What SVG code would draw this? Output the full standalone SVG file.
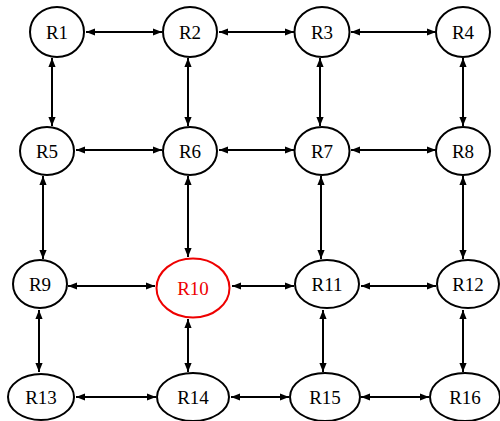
<svg xmlns="http://www.w3.org/2000/svg" width="500" height="421" viewBox="0 0 500 421">
  <defs>
    <marker id="ah" viewBox="0 0 10 10" refX="10" refY="5" markerWidth="4.5" markerHeight="4.5" orient="auto-start-reverse" markerUnits="strokeWidth">
      <path d="M0,1 L10,5 L0,9 z" fill="#000"/>
    </marker>
    <style>
      .n ellipse { fill: #fff; stroke: #000; stroke-width: 2; }
      .n text { font-family: "Liberation Serif", "Times New Roman", serif; font-size: 19px; text-anchor: middle; dominant-baseline: central; fill: #000; }
      .hot ellipse { stroke: #e00; }
      .hot text { fill: #e00; }
      #links line { stroke: #000; stroke-width: 2; marker-start: url(#ah); marker-end: url(#ah); }
    </style>
  </defs>
  <rect width="500" height="421" fill="#fff"/>

  <g id="links">
    <!-- row 1 -->
    <line x1="86" y1="32" x2="162" y2="32"/>
    <line x1="219" y1="32" x2="294" y2="32"/>
    <line x1="351" y1="32" x2="436" y2="32"/>
    <!-- row 2 -->
    <line x1="76" y1="150" x2="162" y2="150"/>
    <line x1="219" y1="150" x2="294" y2="150"/>
    <line x1="351" y1="150" x2="436" y2="150"/>
    <!-- row 3 -->
    <line x1="68" y1="286" x2="155" y2="286"/>
    <line x1="232" y1="286" x2="294" y2="286"/>
    <line x1="361" y1="286" x2="436" y2="286"/>
    <!-- row 4 -->
    <line x1="76" y1="397" x2="156" y2="397"/>
    <line x1="231" y1="397" x2="289" y2="397"/>
    <line x1="361" y1="397" x2="429" y2="397"/>
    <!-- col links, rows 1-2 -->
    <line x1="52" y1="58" x2="52" y2="126"/>
    <line x1="188" y1="58" x2="188" y2="126"/>
    <line x1="320" y1="58" x2="320" y2="126"/>
    <line x1="463" y1="58" x2="463" y2="126"/>
    <!-- rows 2-3 -->
    <line x1="43" y1="176" x2="43" y2="259"/>
    <line x1="188" y1="176" x2="188" y2="257"/>
    <line x1="321" y1="176" x2="321" y2="259"/>
    <line x1="463" y1="176" x2="463" y2="259"/>
    <!-- rows 3-4 -->
    <line x1="39" y1="310" x2="39" y2="372"/>
    <line x1="188" y1="319" x2="188" y2="372"/>
    <line x1="323" y1="310" x2="323" y2="372"/>
    <line x1="463" y1="310" x2="463" y2="372"/>
  </g>

  <g id="R1" class="n"><ellipse cx="57" cy="32" rx="27" ry="25"/><text x="57" y="32">R1</text></g>
  <g id="R2" class="n"><ellipse cx="190" cy="32" rx="27" ry="25"/><text x="190" y="32">R2</text></g>
  <g id="R3" class="n"><ellipse cx="322" cy="32" rx="27.5" ry="25"/><text x="322" y="32">R3</text></g>
  <g id="R4" class="n"><ellipse cx="463" cy="32" rx="27" ry="25"/><text x="463" y="32">R4</text></g>

  <g id="R5" class="n"><ellipse cx="47" cy="151" rx="27" ry="24"/><text x="47" y="151">R5</text></g>
  <g id="R6" class="n"><ellipse cx="190" cy="151" rx="27" ry="24"/><text x="190" y="151">R6</text></g>
  <g id="R7" class="n"><ellipse cx="322" cy="151" rx="27.5" ry="24"/><text x="322" y="151">R7</text></g>
  <g id="R8" class="n"><ellipse cx="463" cy="151" rx="27" ry="24"/><text x="463" y="151">R8</text></g>

  <g id="R9" class="n"><ellipse cx="40" cy="284" rx="27" ry="24"/><text x="40" y="284">R9</text></g>
  <g id="R10" class="n hot"><ellipse cx="193" cy="288" rx="36.5" ry="29.5"/><text x="193" y="288">R10</text></g>
  <g id="R11" class="n"><ellipse cx="327" cy="284" rx="32" ry="24"/><text x="327" y="284">R11</text></g>
  <g id="R12" class="n"><ellipse cx="468" cy="284" rx="31" ry="24"/><text x="468" y="284">R12</text></g>

  <g id="R13" class="n"><ellipse cx="41" cy="397" rx="33" ry="23"/><text x="41" y="397">R13</text></g>
  <g id="R14" class="n"><ellipse cx="193" cy="397" rx="36" ry="24"/><text x="193" y="397">R14</text></g>
  <g id="R15" class="n"><ellipse cx="325" cy="397" rx="35" ry="24"/><text x="325" y="397">R15</text></g>
  <g id="R16" class="n"><ellipse cx="465" cy="397" rx="35" ry="24"/><text x="465" y="397">R16</text></g>
</svg>
